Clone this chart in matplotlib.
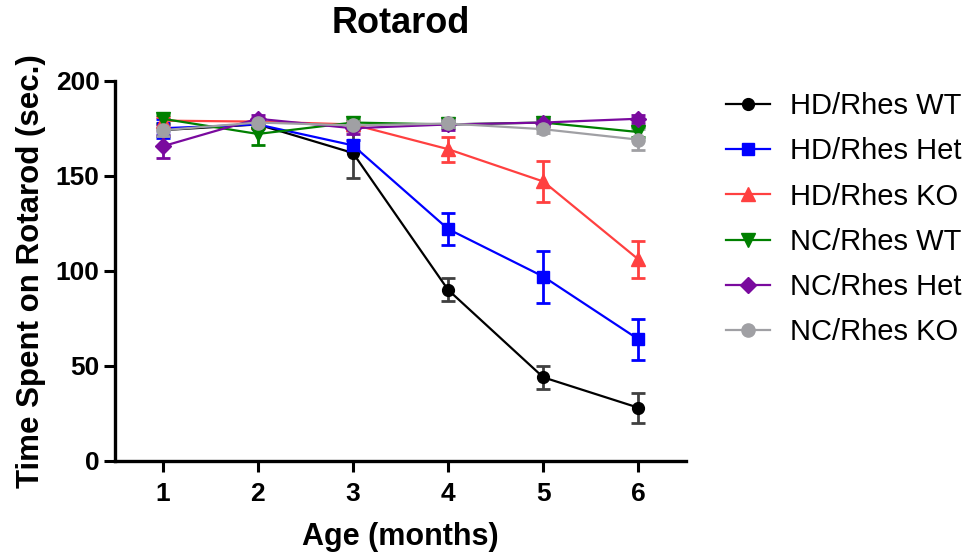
import matplotlib
matplotlib.use("Agg")
import matplotlib.pyplot as plt
from matplotlib.lines import Line2D

# rotarod data (mean, sem)
months = [1, 2, 3, 4, 5, 6]

hd_wt = [174, 177, 162, 90, 44, 28]
hd_wt_err = [3, 2, 13, 6, 6, 7.8]
hd_het = [175, 177, 166, 122, 97, 64]
hd_het_err = [5, 2, 3, 8.5, 13.7, 10.8]
hd_ko = [179, 178.5, 177, 164, 147, 106]
hd_ko_err = [2, 2, 2, 6.5, 11, 9.7]
nc_wt = [180, 172, 178, 177, 178, 173]
nc_wt_err = [2, 6, 2, 2, 2, 2.6]
nc_het = [165.5, 180, 175, 177, 178, 180]
nc_het_err = [6, 2, 3, 3, 2, 2]
nc_ko = [174, 178, 176.5, 177.5, 174.5, 169]
nc_ko_err = [3, 2, 3, 2, 2, 5.5]

labels = ['HD/Rhes WT', 'HD/Rhes Het', 'HD/Rhes KO',
          'NC/Rhes WT', 'NC/Rhes Het', 'NC/Rhes KO']

plt.rcParams['font.family'] = ['Liberation Sans', 'DejaVu Sans']

fig = plt.figure(figsize=(9.77, 5.54), dpi=100)
ax = fig.add_axes([0.1177, 0.1679, 0.5845, 0.6864])

series = [
    (hd_wt, hd_wt_err, 'black', '#404040', 'o', 8.5),
    (hd_het, hd_het_err, '#0000ff', '#0000ff', 's', 8.5),
    (hd_ko, hd_ko_err, '#ff4040', '#ff4040', '^', 9.5),
    (nc_wt, nc_wt_err, '#008000', '#008000', 'v', 9.5),
    (nc_het, nc_het_err, '#7a0a9e', '#7a0a9e', 'D', 8),
    (nc_ko, nc_ko_err, '#a0a0a4', '#a0a0a4', 'o', 9.5),
]

handles = []
for (vals, err, col, ecol, mk, ms), lab in zip(series, labels):
    ax.errorbar(months, vals, yerr=err, color=col, ecolor=ecol, marker=mk,
                markersize=ms, linewidth=1.6, elinewidth=2, capsize=5,
                capthick=2)
    handles.append(Line2D([], [], color=col, marker=mk, markersize=ms,
                          linewidth=1.6, label=lab))

ax.set_xlim(0.5, 6.5)
ax.set_ylim(0, 200)
ax.set_xticks(months)
ax.set_yticks([0, 50, 100, 150, 200])

for s in ['top', 'right']:
    ax.spines[s].set_visible(False)
for s in ['left', 'bottom']:
    ax.spines[s].set_linewidth(2.4)

ax.tick_params(axis='both', direction='out', length=8, width=2.2,
               labelsize=19, pad=3)
ax.tick_params(axis='x', pad=7)
for t in ax.get_xticklabels() + ax.get_yticklabels():
    t.set_fontweight('bold')

ax.set_xlabel('Age (months)', fontsize=22, fontweight='bold', labelpad=12)
ax.set_ylabel('Time Spent on Rotarod (sec.)', fontsize=22.5,
              fontweight='bold', labelpad=7)
ax.set_title('Rotarod', fontsize=26, fontweight='bold', pad=34)

ax.legend(handles=handles, loc='upper left', bbox_to_anchor=(0.728, 0.86),
          bbox_transform=fig.transFigure, frameon=False, fontsize=21,
          handlelength=1.5, handletextpad=0.7, labelspacing=0.59,
          borderpad=0)

fig.savefig('out.png', dpi=100)
